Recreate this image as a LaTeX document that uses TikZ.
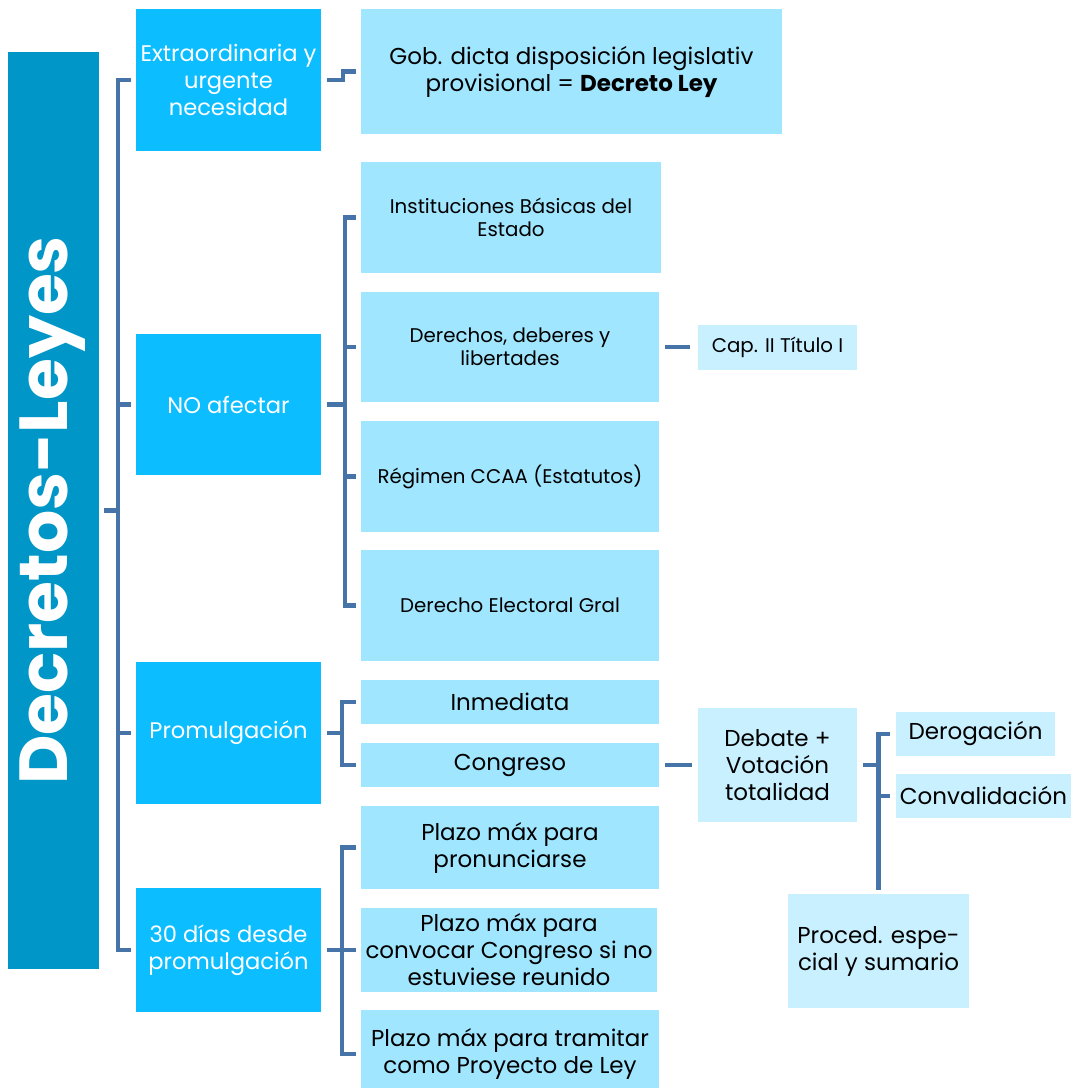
\documentclass[tikz,border=0pt]{standalone}
\usepackage{fontspec}
\setmainfont{Poppins}
\definecolor{titlec}{RGB}{0,150,200}
\definecolor{lvlone}{RGB}{12,190,255}
\definecolor{lvltwo}{RGB}{160,230,255}
\definecolor{lvlthree}{RGB}{200,240,255}
\definecolor{connc}{RGB}{70,115,168}
\tikzset{
  boxbase/.style={draw=none, inner sep=1pt, align=center, text=black},
  titlebox/.style={boxbase, fill=titlec, text=white},
  onebox/.style={boxbase, fill=lvlone, text=white, font=\fontsize{22.6}{27}\selectfont},
  twobox/.style={boxbase, fill=lvltwo, font=\fontsize{23}{27}\selectfont},
  twosmall/.style={boxbase, fill=lvltwo, font=\fontsize{19.8}{23.5}\selectfont},
  threebox/.style={boxbase, fill=lvlthree, font=\fontsize{23}{27}\selectfont},
  threesmall/.style={boxbase, fill=lvlthree, font=\fontsize{19.8}{23.5}\selectfont},
  conn/.style={draw=connc, line width=4.5pt, line join=miter},
}
\begin{document}
\begin{tikzpicture}[x=1pt,y=-1pt]
\useasboundingbox[fill=white] (0,0) rectangle (1071,1088);
% title
\node[titlebox, minimum width=91pt, minimum height=917pt] (title) at (53.5,510.5) {};
\node[text=white, rotate=90, font=\fontsize{68}{72}\selectfont\bfseries] (titletext) at ([xshift=-1pt]title.center) {Decretos-Leyes};
% level 1
\node[onebox, minimum width=185pt, minimum height=142pt] (ext) at (228.5,80) {Extraordinaria y\\urgente\\necesidad};
\node[onebox, minimum width=185pt, minimum height=141pt] (noaf) at (228.5,404.5) {NO afectar};
\node[onebox, minimum width=185pt, minimum height=142pt] (prom) at (228.5,733) {Promulgación};
\node[onebox, minimum width=185pt, minimum height=124pt] (dias) at (228.5,950) {30 días desde\\promulgación};
% level 2
\node[twobox, minimum width=421pt, minimum height=125pt] (dec) at (571.5,71.5) {Gob. dicta disposición legislativ\\provisional = \textbf{Decreto Ley}};
\node[twosmall, minimum width=300pt, minimum height=111pt] (inst) at (511,217.5) {Instituciones Básicas del\\Estado};
\node[twosmall, minimum width=298pt, minimum height=110pt] (der) at (510,347) {Derechos, deberes y\\libertades};
\node[twosmall, minimum width=298pt, minimum height=111pt] (reg) at (510,476.5) {Régimen CCAA (Estatutos)};
\node[twosmall, minimum width=298pt, minimum height=111pt] (elec) at (510,605.5) {Derecho Electoral Gral};
\node[threesmall, minimum width=159pt, minimum height=45pt] (cap) at (777.5,347) {Cap. II Título I};
\node[twobox, minimum width=298pt, minimum height=44pt] (inm) at (510,702) {Inmediata};
\node[twobox, minimum width=298pt, minimum height=44pt] (cong) at (510,765) {Congreso};
\node[threebox, minimum width=159pt, minimum height=114pt] (deb) at (777.5,765) {Debate +\\Votación\\totalidad};
\node[threebox, minimum width=159pt, minimum height=44pt] (derog) at (975.5,734) {Derogación};
\node[threebox, minimum width=175pt, minimum height=44pt] (conv) at (983.5,796) {Convalidación};
\node[threebox, minimum width=181pt, minimum height=114pt] (proc) at (878.5,951) {Proced. espe-\\cial y sumario};
\node[twobox, minimum width=298pt, minimum height=83pt] (pone) at (510,847.5) {Plazo máx para\\pronunciarse};
\node[twobox, minimum width=296pt, minimum height=84pt] (ptwo) at (509,950) {Plazo máx para\\convocar Congreso si no\\estuviese reunido};
\node[twobox, minimum width=298pt, minimum height=88pt] (pthree) at (510,1054) {Plazo máx para tramitar\\como Proyecto de Ley};
% connectors: main bracket
\coordinate (mb) at (118,0);
\draw[conn] ([xshift=-5pt]ext.west) -- (mb |- ext.west) -- (mb |- dias.west) -- ([xshift=-5pt]dias.west);
\draw[conn] ([xshift=-5pt]noaf.west) -- (mb |- noaf.west);
\draw[conn] ([xshift=-5pt]prom.west) -- (mb |- prom.west);
\draw[conn] ([xshift=5pt]title.east) -- (mb |- title.east);
% ext -> decreto
\draw[conn] ([xshift=6pt]ext.east) -- ++(16,0) |- ([xshift=-5pt]dec.west);
% no afectar bracket
\coordinate (bb) at (345,0);
\draw[conn] ([xshift=-5pt]inst.west) -- (bb |- inst.west) -- (bb |- elec.west) -- ([xshift=-5pt]elec.west);
\draw[conn] ([xshift=-5pt]der.west) -- (bb |- der.west);
\draw[conn] ([xshift=-5pt]reg.west) -- (bb |- reg.west);
\draw[conn] ([xshift=6pt]noaf.east) -- (bb |- noaf.east);
\draw[conn] ([xshift=6pt]der.east) -- ([xshift=-8pt]cap.west);
% promulgacion bracket
\coordinate (pb) at (342,0);
\draw[conn] ([xshift=-5pt]inm.west) -- (pb |- inm.west) -- (pb |- cong.west) -- ([xshift=-5pt]cong.west);
\draw[conn] ([xshift=6pt]prom.east) -- (pb |- prom.east);
\draw[conn] ([xshift=6pt]cong.east) -- ([xshift=-6pt]deb.west);
% debate bracket
\draw[conn] ([xshift=-6pt]derog.west) -| ([yshift=4pt]proc.north);
\draw[conn] ([xshift=6pt]deb.east) -- (proc.north |- deb.east);
\draw[conn] ([xshift=-6pt]conv.west) -- (proc.north |- conv.west);
% 30 dias bracket
\draw[conn] ([xshift=-5pt]pone.west) -- (pb |- pone.west) -- (pb |- pthree.west) -- ([xshift=-5pt]pthree.west);
\draw[conn] ([xshift=-5pt]ptwo.west) -- (pb |- ptwo.west);
\draw[conn] ([xshift=6pt]dias.east) -- (pb |- dias.east);
\end{tikzpicture}
\end{document}
